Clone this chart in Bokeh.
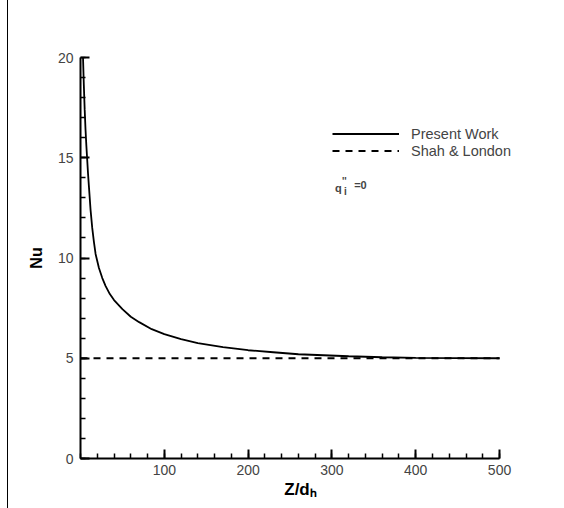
from bokeh.plotting import figure
from bokeh.models import Legend, LegendItem, Label, FixedTicker, Range1d
from bokeh.embed import file_html
from bokeh.resources import INLINE

# Data
z_present = [3, 4, 5, 6, 7, 8, 9, 10, 12, 14, 16, 18, 22, 26, 30, 35, 40, 50, 60, 70,
             85, 100, 120, 140, 170, 200, 230, 260, 290, 320, 360, 400, 450, 500]
nu_present = [20.0, 18.6, 17.4, 16.4, 15.6, 14.9, 14.2, 13.6, 12.4, 11.5, 10.8, 10.2,
              9.5, 9.0, 8.6, 8.2, 7.9, 7.45, 7.07, 6.8, 6.45, 6.2, 5.95, 5.75, 5.55, 5.4,
              5.3, 5.2, 5.15, 5.1, 5.05, 5.02, 5.01, 5.0]
z_shah = [0, 500]
nu_shah = [5.0, 5.0]

x_ticks = [100, 200, 300, 400, 500]
y_ticks = [0, 5, 10, 15, 20]

FONT = "Liberation Sans"

p = figure(width=556, height=508, output_backend="svg", toolbar_location=None,
           x_range=Range1d(0, 525), y_range=Range1d(0, 20),
           min_border_left=72, min_border_right=44, min_border_top=57, min_border_bottom=50)
p.margin = (0, 0, 0, 7)
p.styles = {"border-left": "1px solid black"}
p.outline_line_color = None
p.grid.visible = False
p.background_fill_color = "white"

r1 = p.line(z_present, nu_present, line_color="black", line_width=1.8)
r2 = p.line(z_shah, nu_shah, line_color="black", line_width=1.8, line_dash="7 6")

for ax in (p.xaxis[0], p.yaxis[0]):
    ax.axis_line_width = 2
    ax.axis_line_color = "black"
    ax.major_tick_in = 9
    ax.major_tick_out = 0
    ax.minor_tick_in = 5
    ax.minor_tick_out = 0
    ax.major_tick_line_width = 2
    ax.minor_tick_line_width = 1.5
    ax.major_label_text_font = FONT
    ax.major_label_text_font_size = "14px"
    ax.major_label_text_color = "#444444"
    ax.axis_label_text_font = FONT
    ax.axis_label_text_font_style = "bold"
    ax.axis_label_text_color = "black"

p.xaxis.bounds = (0, 500)
p.xaxis.ticker = FixedTicker(ticks=x_ticks, minor_ticks=list(range(0, 501, 20)))
p.yaxis.ticker = FixedTicker(ticks=y_ticks, minor_ticks=list(range(0, 21, 1)))
p.xaxis.major_label_standoff = 6
p.yaxis.major_label_standoff = 7
p.xaxis.axis_label = "Z/d\u2095"
p.xaxis.axis_label_text_font_size = "17px"
p.xaxis.axis_label_standoff = 2
p.yaxis.axis_label = "Nu"
p.yaxis.axis_label_text_font_size = "16px"
p.yaxis.axis_label_standoff = 10

legend = Legend(items=[LegendItem(label="Present Work", renderers=[r1]),
                       LegendItem(label="Shah & London", renderers=[r2])],
                location=(252, 299), margin=0, padding=0, spacing=0,
                glyph_width=67, glyph_height=17, label_height=17, label_standoff=12,
                border_line_alpha=0, background_fill_alpha=0,
                label_text_font=FONT, label_text_font_size="14.5px")
p.add_layout(legend)

# q''_i = 0 annotation (data coordinates)
p.add_layout(Label(x=303.7, y=13.5, text="q", text_font=FONT, text_font_size="11px",
                   text_font_style="bold", text_baseline="alphabetic", text_align="left"))
p.add_layout(Label(x=312, y=14.1, text="''", text_font=FONT, text_font_size="10px",
                   text_font_style="bold", text_baseline="top", text_align="left"))
p.add_layout(Label(x=314.5, y=13.6, text="i", text_font=FONT, text_font_size="10px",
                   text_font_style="bold", text_baseline="top", text_align="left"))
p.add_layout(Label(x=326.5, y=13.65, text="=0", text_font=FONT, text_font_size="11px",
                   text_font_style="bold", text_baseline="middle", text_align="left"))

open("out.html", "w").write(file_html(p, INLINE))
